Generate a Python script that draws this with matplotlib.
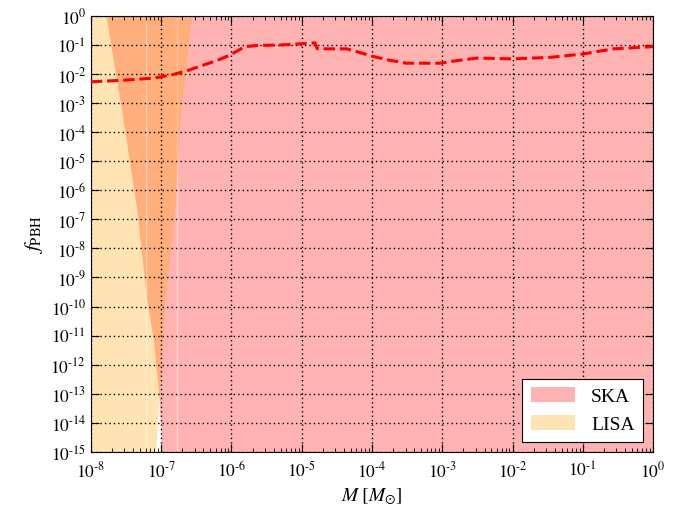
import numpy as np
import matplotlib
matplotlib.use("Agg")
import matplotlib.pyplot as plt
from matplotlib.patches import Patch

# dashed curve (log10 values)
line_logM = [-8.0, -7.5, -7.1, -6.83, -6.62, -6.42, -6.21, -6.02, -5.81, -5.64,
             -5.27, -5.0, -4.81, -4.78, -4.645, -4.36, -4.22, -4.0, -3.79, -3.51,
             -3.03, -2.79, -2.51, -1.99, -1.47, -0.99, -0.565, 0.0]
line_logf = [-2.27, -2.21, -2.14, -2.02, -1.88, -1.71, -1.54, -1.35, -1.06, -1.02,
             -1.0, -0.96, -0.93, -1.13, -1.135, -1.135, -1.23, -1.386, -1.51, -1.63,
             -1.63, -1.54, -1.455, -1.48, -1.43, -1.31, -1.135, -1.06]

# edges of the shaded regions (log10 values)
edge_logf = [0.0, -3.54, -6.64, -9.74, -11.11, -12.49, -13.18, -15.0]
ska_left_logM = [-7.786, -7.544, -7.349, -7.207, -7.113, -7.056, -7.028, -6.994]
lisa_right_logM = [-6.567, -6.733, -6.804, -6.947, -6.979, -7.014, -7.032, -7.079]

# faint seams between fill patches
ska_seam_logM = [-6.78]
lisa_seam_logM = [-7.22]

labels = ["SKA", "LISA"]
xlim = (1e-8, 1e0)
ylim = (1e-15, 1e0)
yticks_exp = list(range(-15, 1))
xticks_exp = list(range(-8, 1))


def pow_label(e):
    # short hyphen in the exponent, like the original
    if e < 0:
        return r"$10^{\text{-}%d}$" % (-e)
    return r"$10^{%d}$" % e


plt.rcParams["font.family"] = ["Liberation Serif", "DejaVu Serif"]
plt.rcParams["mathtext.fontset"] = "stix"

fig = plt.figure(figsize=(6.94, 5.10), dpi=100)
ax = fig.add_axes([0.131, 0.112, 0.81, 0.855])

f_edge = 10.0 ** np.array(edge_logf)
ax.fill_betweenx(f_edge, 10.0 ** np.array(ska_left_logM), xlim[1],
                 color="red", alpha=0.3, lw=0, zorder=1)
for m in ska_seam_logM:
    ax.axvline(10.0 ** m, color="white", alpha=0.4, lw=1, zorder=1.1)
ax.fill_betweenx(f_edge, xlim[0], 10.0 ** np.array(lisa_right_logM),
                 color="orange", alpha=0.3, lw=0, zorder=1.2)
for m in lisa_seam_logM:
    ax.axvline(10.0 ** m, color="white", alpha=0.4, lw=1, zorder=1.3)

ax.plot(10.0 ** np.array(line_logM), 10.0 ** np.array(line_logf),
        color="red", ls="--", lw=2.2, zorder=3)

ax.set_xscale("log")
ax.set_yscale("log")
ax.set_xlim(*xlim)
ax.set_ylim(*ylim)
ax.set_xticks([10.0 ** e for e in xticks_exp])
ax.set_xticklabels([pow_label(e) for e in xticks_exp])
ax.set_yticks([10.0 ** e for e in yticks_exp])
ax.set_yticklabels([pow_label(e) for e in yticks_exp])
ax.yaxis.set_minor_locator(matplotlib.ticker.NullLocator())

ax.tick_params(which="both", direction="in", top=True, right=True, labelsize=12.5)
ax.tick_params(which="major", length=6, width=0.8)
ax.tick_params(which="minor", length=3, width=0.6)
ax.tick_params(axis="x", pad=6)

ax.grid(True, which="major", ls=(0, (1, 2.2)), color="black", lw=1.0)
ax.set_axisbelow(False)

ax.set_xlabel(r"$M\;[M_{\odot}]$", fontsize=14)
ax.set_ylabel(r"$f_{\rm PBH}$", fontsize=15)

handles = [Patch(facecolor="red", alpha=0.3, edgecolor="none"),
           Patch(facecolor="orange", alpha=0.3, edgecolor="none")]
leg = ax.legend(handles, labels, loc="lower right", fontsize=14,
                fancybox=False, framealpha=1, edgecolor="black",
                handlelength=2.3, handleheight=0.8, borderpad=0.45,
                labelspacing=0.5, handletextpad=0.8, borderaxespad=0.5)
leg.get_frame().set_linewidth(0.8)

fig.savefig("out.png", dpi=100)
